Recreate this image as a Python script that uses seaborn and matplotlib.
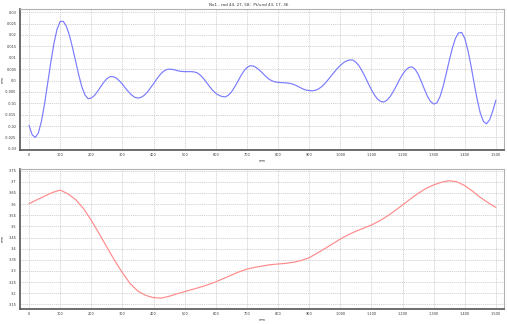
import matplotlib
matplotlib.use("Agg")
import matplotlib.pyplot as plt
import seaborn as sns
import pandas as pd

# ---- data ----
top_x = list(range(0, 1501, 10))
top_y = [-0.0197, -0.0238, -0.0250, -0.0230, -0.0178, -0.0102, -0.0012, 0.0080, 0.0163, 0.0225,
         0.0259, 0.0260, 0.0238, 0.0198, 0.0143, 0.0082, 0.0023, -0.0029, -0.0064, -0.0080,
         -0.0077, -0.0066, -0.0048, -0.0028, -0.0008, 0.0008, 0.0017, 0.0017, 0.0011, -0.0001,
         -0.0016, -0.0034, -0.0050, -0.0064, -0.0074, -0.0077, -0.0074, -0.0065, -0.0051, -0.0033,
         -0.0014, 0.0006, 0.0024, 0.0038, 0.0047, 0.0050, 0.0049, 0.0046, 0.0042, 0.0040,
         0.0039, 0.0039, 0.0039, 0.0038, 0.0034, 0.0024, 0.0010, -0.0008, -0.0026, -0.0043,
         -0.0056, -0.0065, -0.0070, -0.0072, -0.0065, -0.0051, -0.0030, -0.0006, 0.0019, 0.0041,
         0.0057, 0.0065, 0.0064, 0.0057, 0.0046, 0.0033, 0.0019, 0.0007, -0.0001, -0.0006,
         -0.0008, -0.0009, -0.0010, -0.0011, -0.0013, -0.0017, -0.0023, -0.0030, -0.0037, -0.0042,
         -0.0044, -0.0045, -0.0043, -0.0037, -0.0027, -0.0014, 0.0002, 0.0019, 0.0036, 0.0052,
         0.0066, 0.0078, 0.0086, 0.0090, 0.0090, 0.0081, 0.0065, 0.0042, 0.0016, -0.0013,
         -0.0040, -0.0064, -0.0082, -0.0092, -0.0094, -0.0086, -0.0071, -0.0049, -0.0024, 0.0003,
         0.0027, 0.0045, 0.0057, 0.0060, 0.0050, 0.0028, -0.0003, -0.0037, -0.0069, -0.0092,
         -0.0103, -0.0099, -0.0072, -0.0028, 0.0028, 0.0087, 0.0142, 0.0185, 0.0209, 0.0211,
         0.0185, 0.0133, 0.0065, -0.0012, -0.0084, -0.0144, -0.0180, -0.0190, -0.0172, -0.0133,
         -0.0086]

bot_x = list(range(0, 1501, 25))
bot_y = [3.602, 3.619, 3.636, 3.652, 3.663, 3.646, 3.620, 3.580, 3.527, 3.468,
         3.407, 3.347, 3.292, 3.243, 3.209, 3.190, 3.180, 3.178, 3.186, 3.197,
         3.207, 3.217, 3.227, 3.238, 3.251, 3.266, 3.281, 3.296, 3.308, 3.316,
         3.322, 3.328, 3.331, 3.334, 3.339, 3.347, 3.359, 3.379, 3.400, 3.421,
         3.443, 3.462, 3.478, 3.492, 3.506, 3.524, 3.545, 3.570, 3.596, 3.623,
         3.648, 3.670, 3.686, 3.698, 3.705, 3.700, 3.683, 3.658, 3.630, 3.606,
         3.585]

x_ticks = [0, 100, 200, 300, 400, 500, 600, 700, 800, 900, 1000, 1100, 1200, 1300, 1400, 1500]
x_tick_labels = ["0", "100", "200", "300", "400", "500", "600", "700", "800", "900",
                 "1,000", "1,100", "1,200", "1,300", "1,400", "1,500"]
top_yticks = [0.03, 0.025, 0.02, 0.015, 0.01, 0.005, 0.0, -0.005, -0.01, -0.015, -0.02, -0.025, -0.03]
top_ytick_labels = ["0.03", "0.025", "0.02", "0.015", "0.01", "0.005", "0.0", "-0.005", "-0.01",
                    "-0.015", "-0.02", "-0.025", "-0.03"]
bot_yticks = [3.75, 3.7, 3.65, 3.6, 3.55, 3.5, 3.45, 3.4, 3.35, 3.3, 3.25, 3.2, 3.15]
bot_ytick_labels = ["3.75", "3.7", "3.65", "3.6", "3.55", "3.5", "3.45", "3.4", "3.35", "3.3",
                    "3.25", "3.2", "3.15"]
title_text = "Nx1 - rod 44, 27, 58;  Pt/und 43, 17, 36"

sns.set_style("white")
plt.rcParams['font.family'] = ['DejaVu Sans']

W, H = 507, 324
fig = plt.figure(figsize=(W / 100, H / 100), dpi=100)

def frac_rect(l, t, r, b):
    return [l / W, 1 - b / H, (r - l) / W, (b - t) / H]

ax1 = fig.add_axes(frac_rect(20, 9, 504, 150))
ax2 = fig.add_axes(frac_rect(20, 169, 504, 309))

df_top = pd.DataFrame({"x": top_x, "y": top_y})
df_bot = pd.DataFrame({"x": bot_x, "y": bot_y})

sns.lineplot(data=df_top, x="x", y="y", ax=ax1, color="#7b7bff", linewidth=0.85)
sns.lineplot(data=df_bot, x="x", y="y", ax=ax2, color="#ff8a8a", linewidth=0.85)

fs = 2.5
for ax, yt, ytl, ylim in [(ax1, top_yticks, top_ytick_labels, (-0.0305, 0.0314)),
                          (ax2, bot_yticks, bot_ytick_labels, (3.129, 3.7576))]:
    ax.set_xlim(-29, 1526)
    ax.set_ylim(*ylim)
    ax.set_xticks(x_ticks)
    ax.set_xticklabels(x_tick_labels, fontsize=fs, color="#333333")
    ax.set_yticks(yt)
    ax.set_yticklabels(ytl, fontsize=fs, color="#333333")
    ax.grid(True, color="#cfcfcf", linestyle=(0, (1.5, 1.0)), linewidth=0.6)
    ax.tick_params(axis="both", length=1.5, width=0.4, pad=1.0, color="#666666")
    ax.set_xlabel("mm", fontsize=fs, color="#333333")
    ax.set_ylabel("mm", fontsize=fs, color="#333333")
    ax.xaxis.set_label_coords(0.5, -0.066)
    ax.yaxis.set_label_coords(-0.031, 0.5)
    for side in ["left", "bottom"]:
        ax.spines[side].set_color("#555555")
        ax.spines[side].set_linewidth(1.2)
    for side in ["top", "right"]:
        ax.spines[side].set_color("#b0b0b0")
        ax.spines[side].set_linewidth(0.8)
    ax.spines["top"].set_visible(True)
    ax.spines["right"].set_visible(True)

fig.text(249 / W, 1 - 5.5 / H, title_text, fontsize=3, ha="center", va="center", color="#333333")

fig.savefig("out.png", dpi=100)
